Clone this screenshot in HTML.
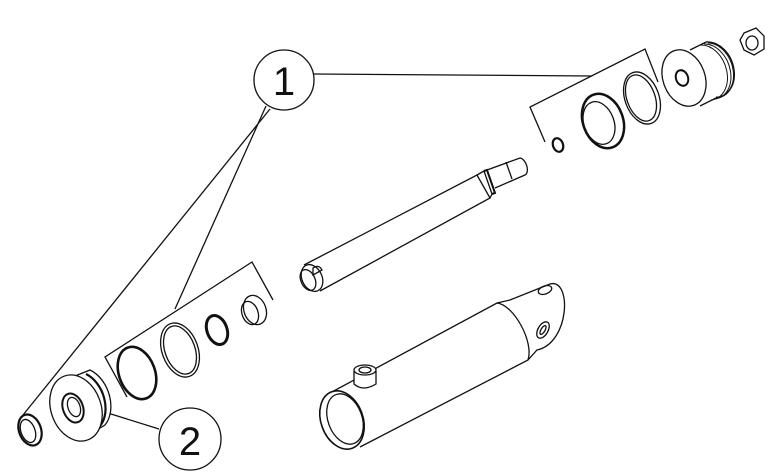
<!DOCTYPE html>
<html><head><meta charset="utf-8"><style>
html,body{margin:0;padding:0;background:#fff;}
svg{display:block;}
text{font-family:"Liberation Sans",sans-serif;}
</style></head><body>
<svg width="782" height="475" viewBox="0 0 782 475" xmlns="http://www.w3.org/2000/svg" fill="none" stroke="#111" stroke-width="1.3">
<!-- callout 1 -->
<circle cx="284" cy="80" r="30" fill="#fff"/>
<text x="284" y="95" font-size="40" text-anchor="middle" fill="#111" stroke="none">1</text>
<line x1="314" y1="74" x2="592" y2="76"/>
<line x1="266" y1="106" x2="175" y2="309"/>
<line x1="270" y1="109" x2="23" y2="415"/>
<!-- callout 2 -->
<circle cx="190" cy="439" r="31" fill="#fff"/>
<text x="190" y="455" font-size="40" text-anchor="middle" fill="#111" stroke="none">2</text>
<line x1="159" y1="429" x2="95" y2="409"/>
<!-- upper bracket -->
<polyline points="545,142 530,107 645,49 658,82"/>
<!-- lower bracket -->
<polyline points="127,397 105,357 252,262 273,300"/>

<!-- upper right parts -->
<ellipse cx="558" cy="145" rx="5" ry="7" transform="rotate(-20 558 145)" stroke-width="2.2"/>
<ellipse cx="603" cy="121" rx="20" ry="28" transform="rotate(-20 603 121)" stroke-width="2.5"/>
<ellipse cx="599" cy="123" rx="15" ry="22" transform="rotate(-20 599 123)"/>
<ellipse cx="642" cy="98" rx="17" ry="27" transform="rotate(-20 642 98)"/>
<ellipse cx="641" cy="98" rx="14" ry="24" transform="rotate(-20 641 98)"/>
<!-- piston -->
<path d="M690,50 L706,42 A22,28 -20 0 1 716,98 L700,106" fill="#fff"/>
<path d="M700,45 A20,27 -20 0 1 711,100 M704,44 A20,27 -20 0 1 714,99 M708,43 A20,27 -20 0 1 716,97" stroke-width="1"/>
<ellipse cx="684" cy="78" rx="21" ry="29" transform="rotate(-20 684 78)" fill="#fff"/>
<ellipse cx="682" cy="78" rx="6" ry="8" transform="rotate(-20 682 78)" stroke-width="2"/>
<!-- nut -->
<polygon points="744,33 756,28 764,36 764,49 754,55 744,50 740,40" />
<ellipse cx="752" cy="43" rx="6" ry="7"/>

<!-- rod -->
<path d="M304,265 L477,175 L490,198 L320,291"/>
<ellipse cx="312" cy="278" rx="10" ry="14" transform="rotate(-25 312 278)" fill="#fff"/>
<ellipse cx="308" cy="280" rx="7" ry="11" transform="rotate(-25 308 280)"/>
<path d="M313,268 q6,-4 9,2 l-9,5 z"/>
<path d="M477,175 L484,171 L492,194 L490,198"/>
<path d="M484,171 L487,170 L495,193 L492,194" stroke-width="2"/>
<path d="M487,170 L520,158 A5,9 -20 0 1 525,175 L495,188"/>
<line x1="506" y1="162" x2="512" y2="179"/>

<!-- barrel -->
<path d="M330,393 L497,303 L510,300 L550,284 C572,278 570,343 537,350 L528,360 L360,447"/>
<path d="M497,303 C514,305 534,342 528,360"/>
<ellipse cx="545" cy="290" rx="7" ry="4" transform="rotate(-20 545 290)"/>
<ellipse cx="543" cy="330" rx="5" ry="9" transform="rotate(30 543 330)"/>
<ellipse cx="543" cy="330" rx="2" ry="5" transform="rotate(30 543 330)"/>
<ellipse cx="342" cy="420" rx="21" ry="30" transform="rotate(-20 342 420)" fill="#fff" stroke-width="1.6"/>
<ellipse cx="345" cy="419" rx="17" ry="26" transform="rotate(-20 345 419)"/>
<path d="M354,371 L354,384 Q363,392 376,384 L376,371" fill="#fff"/>
<ellipse cx="365" cy="370" rx="11" ry="5" fill="#fff"/>
<ellipse cx="365" cy="370" rx="6" ry="3"/>

<!-- lower left parts -->
<ellipse cx="30" cy="430" rx="11" ry="16" transform="rotate(-20 30 430)" stroke-width="2.2"/>
<ellipse cx="28" cy="431" rx="7" ry="12" transform="rotate(-20 28 431)"/>
<path d="M70,378 L90,370 A24,33 -20 0 1 105,425 L90,434" fill="#fff"/>
<path d="M86,374 A22,31 -20 0 1 100,426" stroke-width="2.2"/>
<ellipse cx="76" cy="408" rx="25" ry="34" transform="rotate(-20 76 408)" fill="#fff"/>
<ellipse cx="73" cy="408" rx="10" ry="15" transform="rotate(-20 73 408)" stroke-width="2"/>
<ellipse cx="74" cy="407" rx="6" ry="10" transform="rotate(-20 74 407)"/>
<ellipse cx="137" cy="373" rx="18" ry="27" transform="rotate(-20 137 373)" stroke-width="2.6"/>
<ellipse cx="180" cy="350" rx="18" ry="28" transform="rotate(-20 180 350)"/>
<ellipse cx="180" cy="350" rx="15" ry="25" transform="rotate(-20 180 350)"/>
<ellipse cx="217" cy="330" rx="10" ry="15" transform="rotate(-20 217 330)" stroke-width="3"/>
<ellipse cx="255" cy="310" rx="11" ry="15" transform="rotate(-20 255 310)"/>
<ellipse cx="250" cy="313" rx="8" ry="12" transform="rotate(-20 250 313)"/>
</svg>
</body></html>
